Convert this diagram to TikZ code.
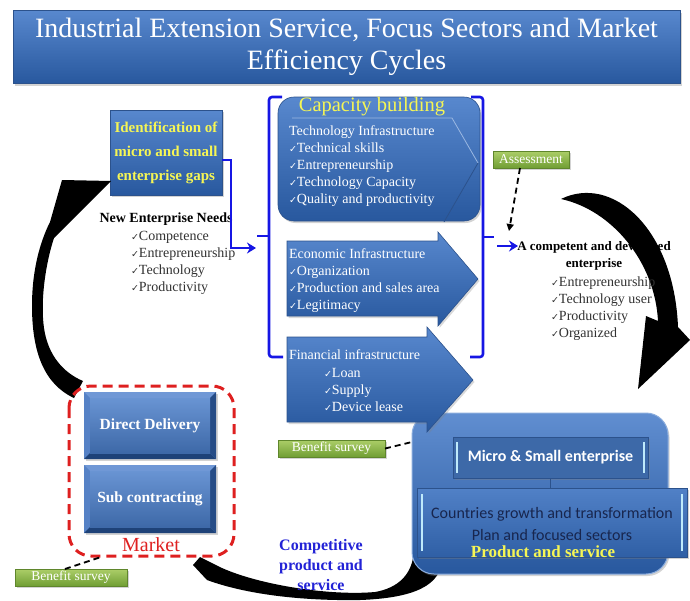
\documentclass[tikz,border=0pt]{standalone}
\usepackage{fontspec}
\setmainfont{Liberation Serif}
\newfontfamily\calfont{Carlito}
\newfontfamily\ckfont{DejaVu Sans}
\usetikzlibrary{shadows,arrows.meta}

\definecolor{bluetop}{RGB}{88,136,206}
\definecolor{bluebot}{RGB}{40,88,158}
\definecolor{blueedge}{RGB}{44,82,140}
\definecolor{txtyellow}{RGB}{246,246,84}
\definecolor{greentop}{RGB}{172,206,104}
\definecolor{greenbot}{RGB}{112,158,52}
\definecolor{brblue}{RGB}{22,22,228}
\definecolor{compblue}{RGB}{34,34,214}
\definecolor{mktred}{RGB}{222,32,32}
\definecolor{navytxt}{RGB}{24,38,78}
\definecolor{bevtop}{RGB}{112,152,214}
\definecolor{bevleft}{RGB}{86,130,198}
\definecolor{bevbot}{RGB}{30,66,120}
\definecolor{bevright}{RGB}{38,76,134}
\definecolor{listgrey}{RGB}{50,50,50}

\newcommand{\fsz}[2]{\fontsize{#1}{#2}\selectfont}
\newcommand{\ck}{{\ckfont\fsz{9.5}{9}✓}}

% four bevel faces around a named rectangular node
\newcommand{\bevelfaces}[1]{%
  \fill[bevtop] (#1.north west) -- (#1.north east) -- ([shift={(-6pt,-6pt)}]#1.north east) -- ([shift={(6pt,-6pt)}]#1.north west) -- cycle;
  \fill[bevleft] (#1.north west) -- ([shift={(6pt,-6pt)}]#1.north west) -- ([shift={(6pt,6pt)}]#1.south west) -- (#1.south west) -- cycle;
  \fill[bevbot] (#1.south west) -- ([shift={(6pt,6pt)}]#1.south west) -- ([shift={(-6pt,6pt)}]#1.south east) -- (#1.south east) -- cycle;
  \fill[bevright] (#1.north east) -- ([shift={(-6pt,-6pt)}]#1.north east) -- ([shift={(-6pt,6pt)}]#1.south east) -- (#1.south east) -- cycle;
}

\begin{document}
\begin{tikzpicture}[x=1pt,y=-1pt,
  every node/.style={inner sep=0pt, outer sep=0pt},
  shadowed/.style={drop shadow={opacity=0.35, shadow xshift=1.5pt, shadow yshift=-2pt}},
  bluebox/.style={top color=bluetop, bottom color=bluebot, draw=blueedge, line width=0.6pt},
  titlebox/.style={bluebox, shadowed, minimum width=667, minimum height=73, text=white, align=center, font=\fsz{28}{32}},
  idbox/.style={bluebox, shadowed, minimum width=112, minimum height=85, text=txtyellow, align=center, font=\bfseries\fsz{15}{24}},
  capbox/.style={bluebox, shadowed, rounded corners=16pt, minimum width=202, minimum height=124},
  blockarrow/.style={top color=bluetop, bottom color=bluebot, draw=blueedge, line width=0.6pt, drop shadow={opacity=0.3, shadow xshift=1.5pt, shadow yshift=-2pt}},
  bevelbox/.style={fill=bevleft, minimum width=132, minimum height=67, shadowed},
  bevelface/.style={top color=bluetop!90!white, bottom color=bluebot!90!white, minimum width=120, minimum height=55, text=white, font=\bfseries\fsz{15.5}{18}},
  greenlabel/.style={top color=greentop, bottom color=greenbot, draw=greenbot!85!black, line width=0.4pt, minimum height=17, text=white, font=\fsz{13.5}{14}, shadowed},
  whitelist/.style={align=left, text=white, font=\fsz{14}{17}},
  greylist/.style={align=left, text=listgrey, font=\fsz{14}{17}},
  bracket/.style={draw=brblue, line width=2.6pt, rounded corners=3pt},
  flowarrow/.style={draw=brblue, line width=2.8pt, -{Stealth[length=9pt,width=11pt]}},
  dashline/.style={draw=black, line width=1.8pt, dash pattern=on 6pt off 4pt},
  marketbox/.style={draw=mktred, line width=3pt, dash pattern=on 10pt off 6pt, rounded corners=22pt},
  cyclearrow/.style={fill=black},
  container/.style={top color=bluetop!95!white, bottom color=bluebot, draw=bluetop!70!white, line width=1pt, rounded corners=22pt, minimum width=256, minimum height=161, shadowed},
  innerbox/.style={fill=bluebot!90!white, draw=blueedge, line width=0.8pt, shadowed},
  lightbar/.style={draw=cyan!25!white, line width=1.6pt}
]
\useasboundingbox (0,0) rectangle (690,600);

% ---------- title ----------
\node[titlebox] (title) at (346.5,47) {Industrial Extension Service, Focus Sectors and Market\\Efficiency Cycles};

% ---------- identification of gaps ----------
\node[idbox] (ident) at (166,152.5) {Identification of\\micro and small\\enterprise gaps};

\node[font=\bfseries\fsz{14}{17}] (needs) at (166,219) {New Enterprise Needs};
\node[greylist, anchor=west] (needlist) at (131,263) {\ck Competence\\\ck Entrepreneurship\\\ck Technology\\\ck Productivity};

% ---------- cycle arrows (black) ----------
% left: rising from the market towards the gap identification
\fill[cyclearrow] (62,180) -- (111,181) -- (54,238)
  .. controls (46,262) and (40,300) .. (44,328)
  .. controls (48,356) and (64,373) .. (83,381) -- (74,398)
  .. controls (44,384) and (32,352) .. (32,306)
  .. controls (32,270) and (40,242) .. (50,222) -- cycle;

% right: from the competent enterprise down to the enterprise block
\fill[cyclearrow] (561,199) .. controls (612,174) and (674,228) .. (678,327)
  -- (690,340) -- (638,389) -- (646,316) -- (658,321)
  .. controls (655,262) and (612,210) .. (561,199) -- cycle;

% bottom: from the enterprise block back to the market
\fill[cyclearrow] (193,565) -- (200,557) -- (222,568)
  .. controls (260,585) and (330,596) .. (375,592)
  .. controls (398,588) and (410,575) .. (413,558) -- (442,558)
  .. controls (442,585) and (415,598) .. (360,600)
  .. controls (300,601) and (245,594) .. (207,580) -- cycle;

% ---------- capacity building ----------
\node[capbox] (cap) at (379,159) {};
\draw[bluetop!60!white, line width=0.8pt] (292,118) -- (452,118) -- (478,163);
\draw[blueedge, line width=0.8pt] (478,163) -- (444,222);
\node[text=txtyellow, font=\fsz{20.5}{22}] (captitle) at (372,107) {Capacity building};
\node[whitelist, anchor=west] (caplist) at (289,166) {Technology Infrastructure\\\ck Technical skills\\\ck Entrepreneurship\\\ck Technology Capacity\\\ck Quality and productivity};

% ---------- brackets and flow arrows ----------
\draw[bracket] (282,97) -- (269,97) -- (269,357) -- (283,357);
\draw[bracket] (269,236) -- (257,236);
\draw[bracket] (471,97) -- (483,97) -- (483,357) -- (470,357);
\draw[bracket] (483,237) -- (494,237);

\coordinate (bend1) at (231,160);
\coordinate (bend2) at (231,248);
\coordinate (ltip) at (256,248);
\draw[flowarrow] (ident.east |- bend1) -- (bend1) -- (bend2) -- (ltip);

\coordinate (rstart) at (497,246);
\coordinate (rtip) at (518,246);
\draw[flowarrow] (rstart) -- (rtip);

% ---------- micro & small enterprise ----------
\node[container] (cont) at (540,493.5) {};
\node[innerbox, minimum width=195, minimum height=41, text=white, font=\calfont\bfseries\fsz{16}{18}] (micro) at (550.5,457.5) {Micro \& Small enterprise};
\draw[lightbar] ([xshift=4pt,yshift=-5pt]micro.north west) -- ([xshift=4pt,yshift=5pt]micro.south west);
\draw[lightbar] ([xshift=-4pt,yshift=-5pt]micro.north east) -- ([xshift=-4pt,yshift=5pt]micro.south east);
\draw[blueedge, line width=0.6pt] (micro.south) -- ++(0,10);
\node[innerbox, top color=bluetop!85!bluebot, bottom color=bluebot!85!bluetop, minimum width=270, minimum height=69] (countries) at (552,522.5) {};
\draw[lightbar] ([xshift=5pt,yshift=-6pt]countries.north west) -- ([xshift=5pt,yshift=6pt]countries.south west);
\draw[lightbar] ([xshift=-5pt,yshift=-6pt]countries.north east) -- ([xshift=-5pt,yshift=6pt]countries.south east);
\node[text=navytxt, font=\calfont\fsz{16}{22}, align=center] (ctext) at (552,524) {Countries growth and transformation\\Plan and focused sectors};
\node[text=txtyellow, font=\bfseries\fsz{17}{18}] (prodserv) at (543,552) {Product and service};

% ---------- economic and financial infrastructure ----------
\path[blockarrow] (287,241) -- (438,241) -- (438,232) -- (478,279) -- (438,326) -- (438,316) -- (287,316) -- cycle;
\node[whitelist, anchor=west] (ecolist) at (289,281) {Economic Infrastructure\\\ck Organization\\\ck Production and sales area\\\ck Legitimacy};

\path[blockarrow] (287,337) -- (427,337) -- (427,327) -- (473,380) -- (427,432) -- (427,422) -- (287,422) -- cycle;
\node[text=white, font=\fsz{14}{17}, anchor=west] (fintitle) at (289,355) {Financial infrastructure};
\node[whitelist, anchor=west] (finlist) at (324,390) {\ck Loan\\\ck Supply\\\ck Device lease};

% ---------- assessment and competent enterprise ----------
\node[greenlabel, minimum width=76] (assess) at (531,159.5) {Assessment};
\coordinate (assessend) at (509,231);
\draw[dashline, -{Triangle[length=7pt,width=7pt]}] ([xshift=-11pt]assess.south) -- (assessend);

\node[font=\bfseries\fsz{13}{17}, align=center] (competent) at (594,256) {A competent and developed\\enterprise};
\node[greylist, anchor=west] (complist) at (551,309) {\ck Entrepreneurship\\\ck Technology user\\\ck Productivity\\\ck Organized};

% ---------- benefit survey ----------
\node[greenlabel, minimum width=107] (bs1) at (331.5,448.5) {Benefit survey};
\coordinate (bs1end) at (412,442);
\draw[dashline] (bs1.east) -- (bs1end);

% ---------- market ----------
\node[bevelbox] (direct) at (150,425.5) {};
\bevelfaces{direct}
\node[bevelface] (directface) at (direct) {Direct Delivery};
\node[bevelbox, minimum height=68] (sub) at (150,499) {};
\bevelfaces{sub}
\node[bevelface, minimum height=56] (subface) at (sub) {Sub contracting};
\draw[marketbox] (69,386) rectangle (234,556);
\node[text=mktred, font=\fsz{20}{22}] (market) at (151,545) {Market};

\node[greenlabel, minimum width=112] (bs2) at (71,577.5) {Benefit survey};
\coordinate (bs2end) at (101,557);
\draw[dashline] ([xshift=-6pt]bs2.north) -- (bs2end);

% ---------- competitive product ----------
\node[text=compblue, font=\bfseries\fsz{16}{20}, align=center] (compet) at (321,565) {Competitive\\product and\\service};

\end{tikzpicture}
\end{document}
